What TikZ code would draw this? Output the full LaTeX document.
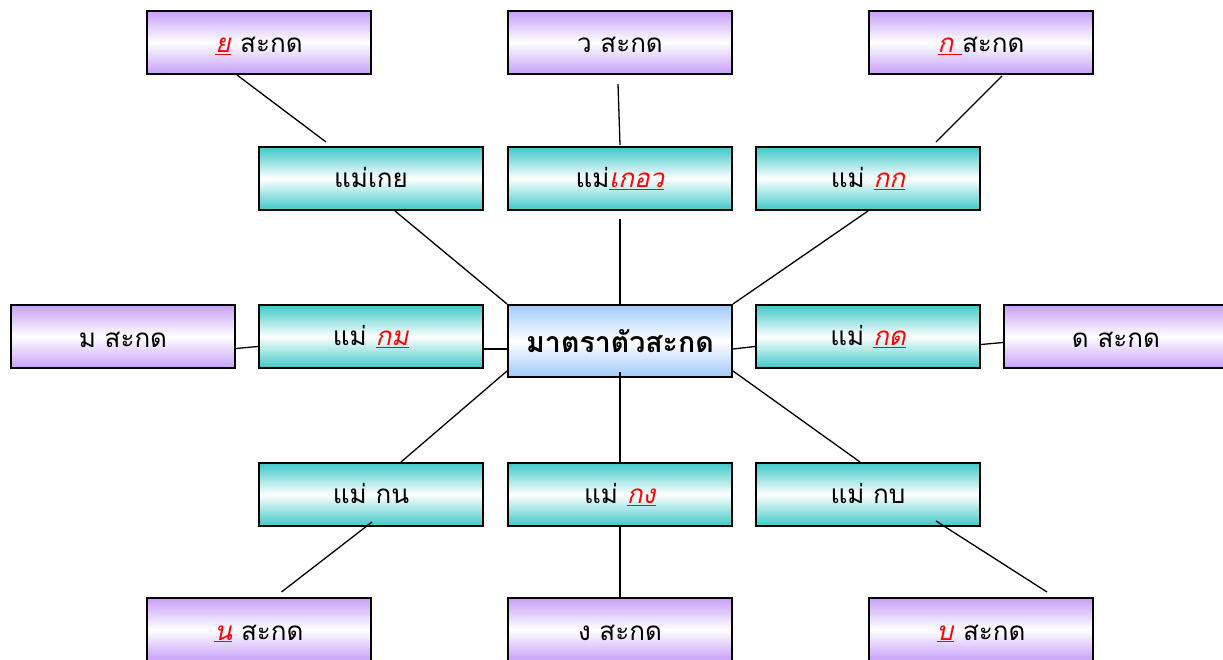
\documentclass[tikz,border=0pt]{standalone}
\usepackage{fontspec}
\setmainfont[Script=Thai]{Loma}
\usetikzlibrary{calc,positioning}
\definecolor{lilac}{RGB}{198,158,248}
\definecolor{aqua}{RGB}{62,200,200}
\definecolor{sky}{RGB}{160,202,250}
\newcommand{\redmark}[1]{\textcolor{red}{\underline{\textit{#1}}}}
\tikzstyle{sakot}=[rectangle,draw=black,line width=1.7pt,minimum width=224.3pt,minimum height=63.3pt,
  inner sep=0pt,text height=21pt,text depth=0pt,top color=lilac,bottom color=lilac,middle color=white,
  font=\fontsize{26}{30}\selectfont]
\tikzstyle{mae}=[rectangle,draw=black,line width=1.7pt,minimum width=224.3pt,minimum height=63.3pt,
  inner sep=0pt,text height=18pt,text depth=0pt,top color=aqua,bottom color=aqua,middle color=white,
  font=\fontsize{26}{30}\selectfont]
\tikzstyle{matra}=[rectangle,draw=black,line width=1.7pt,minimum width=224.3pt,minimum height=72.3pt,
  inner sep=0pt,text height=22pt,text depth=0pt,top color=sky,bottom color=sky,middle color=white,
  font=\bfseries\fontsize{28.5}{32}\selectfont]

\begin{document}
\begin{tikzpicture}[x=1pt,y=-1pt,line width=1.3pt]
    \useasboundingbox (0,0) rectangle (1223,660);
    \node[matra] (centre) at (620,341) {มาตราตัวสะกด};

    \node[mae] (mkoei) [above=93pt of centre] {แม่\redmark{เกอว}};
    \node[mae] (mky) [left=23pt of mkoei] {แม่เกย};
    \node[mae] (mkk) [right=22pt of mkoei] {แม่ \redmark{กก}};
    \node[mae] (mkm) [left=23pt of centre.north west,anchor=north east] {แม่ \redmark{กม}};
    \node[mae] (mkd) [right=22pt of centre.north east,anchor=north west] {แม่ \redmark{กด}};
    \node[mae] (mkng) [below=84pt of centre] {แม่ \redmark{กง}};
    \node[mae] (mkn) [left=23pt of mkng] {แม่ กน};
    \node[mae] (mkb) [right=22pt of mkng] {แม่ กบ};

    \node[sakot] (sw) [above=71pt of mkoei] {ว สะกด};
    \node[sakot] (sy) [left=135pt of sw] {\redmark{ย} สะกด};
    \node[sakot] (sk) [right=135pt of sw] {\redmark{ก\ }สะกด};
    \node[sakot] (sm) [left=22pt of mkm] {ม สะกด};
    \node[sakot] (sd) [right=22pt of mkd] {ด สะกด};
    \node[sakot] (sng) [below=70pt of mkng] {ง สะกด};
    \node[sakot] (sn) [left=135pt of sng] {\redmark{น} สะกด};
    \node[sakot] (sb) [right=135pt of sng] {\redmark{บ} สะกด};

    \draw ($(sy.south)+(-22,0)$) -- ($(mky.north)+(-45,-4)$);
    \draw ($(sw.south)+(-2,9)$) -- ($(mkoei.north)+(0,-1)$);
    \draw ($(sk.south)+(21,1)$) -- ($(mkk.north)+(68,-4)$);
    \draw ($(mky.south)+(24,0)$) -- (centre.north west);
    \draw ($(mkoei.south)+(0,8)$) -- (centre.north);
    \draw (mkk.south) -- (centre.north east);
    \draw ($(sm.east)+(0,12)$) -- ($(mkm.west)+(0,10)$);
    \draw ($(mkm.east)+(0,12.5)$) -- ($(centre.west)+(0,8)$);
    \draw ($(centre.east)+(0,8)$) -- ($(mkd.west)+(0,10)$);
    \draw ($(mkd.east)+(0,8)$) -- ($(sd.west)+(0,6)$);
    \draw ($(centre.west)+(0,30)$) -- ($(mkn.north)+(30,0)$);
    \draw ($(centre.south)+(0,-6)$) -- (mkng.north);
    \draw ($(centre.east)+(0,30)$) -- ($(mkb.north)+(-8,0)$);
    \draw ($(mkn.south)+(1,-5)$) -- ($(sn.north)+(22.5,-5)$);
    \draw (mkng.south) -- (sng.north);
    \draw ($(mkb.south)+(68,-6)$) -- ($(sb.north)+(66,-5)$);
  \end{tikzpicture}
\end{document}
